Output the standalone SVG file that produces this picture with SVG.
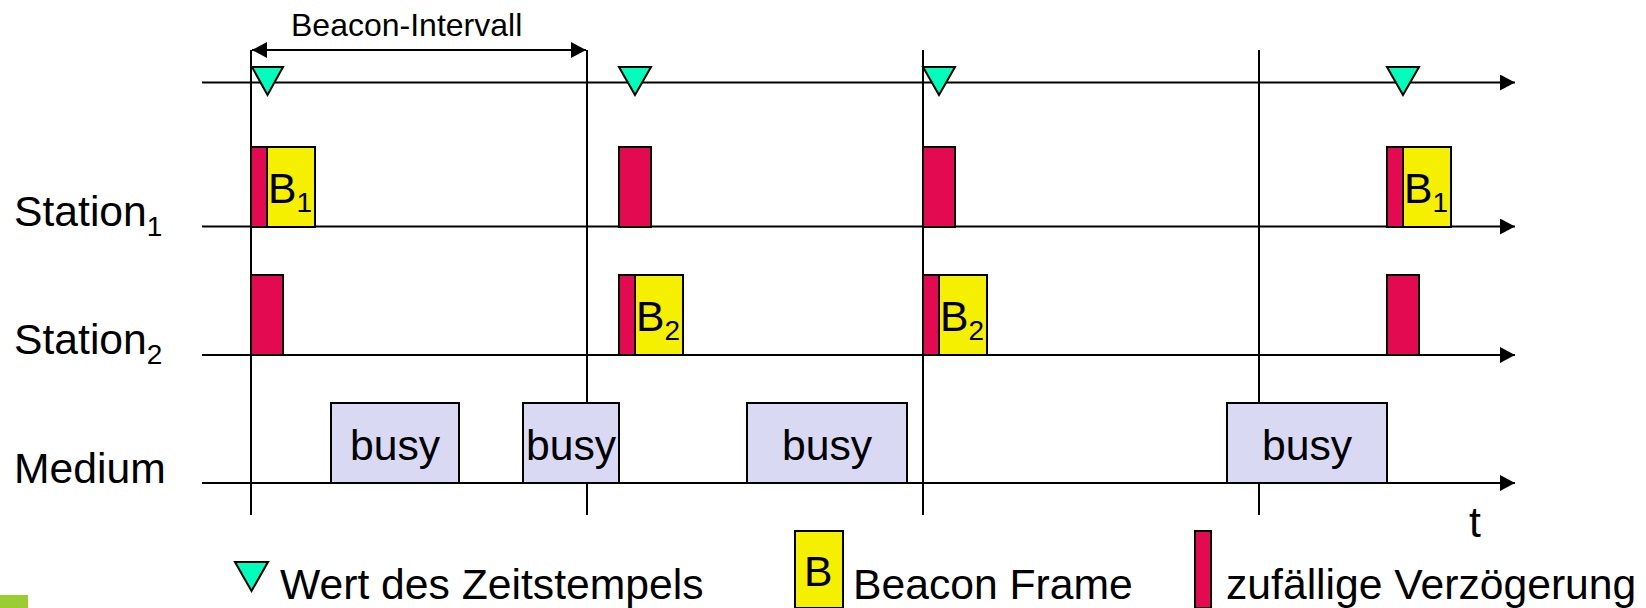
<svg xmlns="http://www.w3.org/2000/svg" width="1646" height="608" viewBox="0 0 1646 608">
<style>
.ln{stroke:#000;stroke-width:2;fill:none}
.r{fill:#e30a52;stroke:#000;stroke-width:2}
.y{fill:#f5f000;stroke:#000;stroke-width:2}
.b{fill:#d9d9f4;stroke:#000;stroke-width:2}
.m{fill:#00ffbb;stroke:#000;stroke-width:2}
text{font-family:"Liberation Sans",Arial,sans-serif;fill:#000;font-size:42.670px}
.s{font-size:28px}
.sm{font-size:32px}
</style>
<defs>
<marker id="a" markerUnits="userSpaceOnUse" markerWidth="16" markerHeight="16" refX="15" refY="8" orient="auto-start-reverse"><path d="M0 0L15 8L0 16z" fill="#000"/></marker>
</defs>
<rect id="corner" x="0" y="595" width="28" height="13" fill="#9acd32"/>
<g id="connectors">
<path class="ln" d="M251 50V515M587 50V515M923 50V515M1259 50V515"/>
<path class="ln" d="M252 50H586" marker-start="url(#a)" marker-end="url(#a)"/>
<path class="ln" d="M202 82.500H1515" marker-end="url(#a)"/>
<path class="ln" d="M202 226.500H1515" marker-end="url(#a)"/>
<path class="ln" d="M202 355H1515" marker-end="url(#a)"/>
<path class="ln" d="M202 483H1515" marker-end="url(#a)"/>
</g>
<g id="sync1"><path class="m" d="M252 67H283L267.500 95z"/></g>
<g id="sync2"><path class="m" d="M619 67H651L635 95z"/></g>
<g id="sync3"><path class="m" d="M923 67H955L939 95z"/></g>
<g id="sync4"><path class="m" d="M1387 67H1419L1403 95z"/></g>
<g id="s1a"><rect class="r" x="251" y="147" width="16" height="80"/><rect class="y" x="267" y="147" width="48" height="80"/><text x="268" y="203">B<tspan class="s" dy="9">1</tspan></text></g>
<g id="s1b"><rect class="r" x="619" y="147" width="32" height="80"/></g>
<g id="s1c"><rect class="r" x="923" y="147" width="32" height="80"/></g>
<g id="s1d"><rect class="r" x="1387" y="147" width="16" height="80"/><rect class="y" x="1403" y="147" width="48" height="80"/><text x="1404" y="203">B<tspan class="s" dy="9">1</tspan></text></g>
<g id="s2a"><rect class="r" x="251" y="275" width="32" height="80"/></g>
<g id="s2b"><rect class="r" x="619" y="275" width="16" height="80"/><rect class="y" x="635" y="275" width="48" height="80"/><text x="636" y="331">B<tspan class="s" dy="9">2</tspan></text></g>
<g id="s2c"><rect class="r" x="923" y="275" width="16" height="80"/><rect class="y" x="939" y="275" width="48" height="80"/><text x="940" y="331">B<tspan class="s" dy="9">2</tspan></text></g>
<g id="s2d"><rect class="r" x="1387" y="275" width="32" height="80"/></g>
<g id="busy1"><rect class="b" x="331" y="403" width="128" height="80"/><text x="395" y="460" text-anchor="middle">busy</text></g>
<g id="busy2"><rect class="b" x="523" y="403" width="96" height="80"/><text x="571" y="460" text-anchor="middle">busy</text></g>
<g id="busy3"><rect class="b" x="747" y="403" width="160" height="80"/><text x="827" y="460" text-anchor="middle">busy</text></g>
<g id="busy4"><rect class="b" x="1227" y="403" width="160" height="80"/><text x="1307" y="460" text-anchor="middle">busy</text></g>
<g id="labels">
<text class="sm" x="291" y="36">Beacon-Intervall</text>
<text x="14" y="226">Station<tspan class="s" dy="10">1</tspan></text>
<text x="14" y="354">Station<tspan class="s" dy="10">2</tspan></text>
<text x="14" y="483">Medium</text>
<text x="1469" y="537">t</text>
</g>
<g id="legend1"><path class="m" d="M235 562H268L251.500 591z"/><text x="280" y="599">Wert des Zeitstempels</text></g>
<g id="legend2"><rect class="y" x="795" y="531" width="48" height="77"/><text x="804" y="586">B</text><text x="853" y="599">Beacon Frame</text></g>
<g id="legend3"><rect class="r" x="1195" y="531" width="16" height="77"/><text x="1226" y="599">zufällige Verzögerung</text></g>
</svg>
